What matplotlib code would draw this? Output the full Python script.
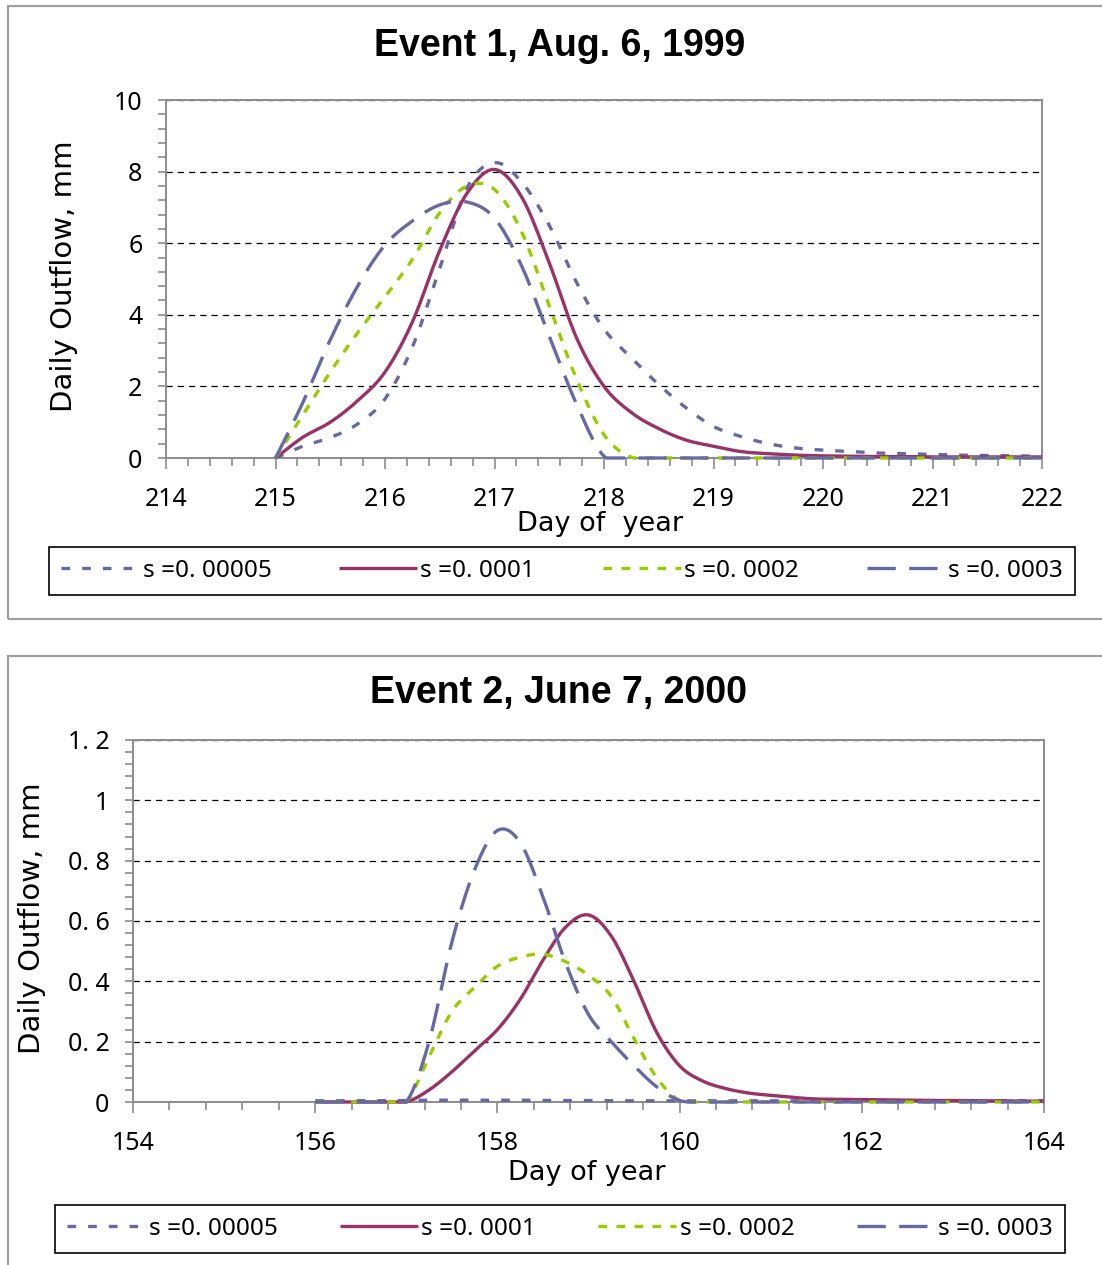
import matplotlib
matplotlib.use("Agg")
import matplotlib.pyplot as plt
import numpy as np
from matplotlib.patches import Rectangle
from matplotlib.ticker import FixedLocator, MultipleLocator

# ---- data ----
labels = ["s =0. 00005", "s =0. 0001", "s =0. 0002", "s =0. 0003"]

ev1_days = [215, 215.25, 215.5, 215.75, 216, 216.25, 216.5, 216.75, 217, 217.25,
            217.5, 217.75, 218, 218.25, 218.5, 218.75, 219, 219.25, 219.5, 219.75,
            220, 220.25, 220.5, 220.75, 221, 221.25, 221.5, 221.75, 222]
ev1_s00005 = [0, 0.33, 0.57, 0.95, 1.65, 3.1, 5.3, 7.55, 8.25, 7.7, 6.5, 4.9, 3.6,
              2.8, 2.05, 1.4, 0.88, 0.6, 0.4, 0.28, 0.22, 0.18, 0.14, 0.12, 0.1,
              0.08, 0.07, 0.06, 0.05]
ev1_s0001 = [0, 0.58, 1.0, 1.6, 2.4, 3.8, 5.8, 7.4, 8.06, 7.28, 5.45, 3.35, 2.0,
             1.27, 0.82, 0.5, 0.33, 0.18, 0.12, 0.08, 0.06, 0.05, 0.04, 0.04, 0.03,
             0.03, 0.03, 0.03, 0.03]
ev1_s0002 = [0, 1.2, 2.4, 3.5, 4.5, 5.55, 6.85, 7.6, 7.5, 6.3, 4.25, 2.2, 0.65,
             0.02, 0, 0, 0, 0, 0, 0, 0, 0, 0, 0, 0, 0, 0, 0, 0]
ev1_s0003 = [0, 1.55, 3.3, 4.8, 5.95, 6.62, 7.07, 7.15, 6.7, 5.35, 3.4, 1.5, 0.05,
             0, 0, 0, 0, 0, 0, 0, 0, 0, 0, 0, 0, 0, 0, 0, 0]

ev2_days = [156, 156.25, 156.5, 156.75, 157, 157.25, 157.5, 157.75, 158, 158.25,
            158.5, 158.75, 159, 159.25, 159.5, 159.75, 160, 160.25, 160.5, 160.75,
            161, 161.25, 161.5, 161.75, 162, 162.25, 162.5, 162.75, 163, 163.25,
            163.5, 163.75, 164]
ev2_s00005 = [0.004, 0.004, 0.004, 0.004, 0.005, 0.006, 0.006, 0.006, 0.006, 0.006,
              0.005, 0.005, 0.005, 0.004, 0.004, 0.004, 0.004, 0.004, 0.004, 0.004,
              0.004, 0.004, 0.004, 0.004, 0.004, 0.004, 0.004, 0.004, 0.004, 0.004,
              0.004, 0.004, 0.004]
ev2_s0001 = [0, 0, 0, 0, 0, 0.04, 0.1, 0.17, 0.24, 0.34, 0.47, 0.58, 0.62, 0.55,
             0.4, 0.23, 0.12, 0.07, 0.045, 0.03, 0.022, 0.015, 0.01, 0.009, 0.008,
             0.007, 0.006, 0.005, 0.005, 0.004, 0.004, 0.003, 0.003]
ev2_s0002 = [0, 0, 0, 0, 0, 0.15, 0.3, 0.38, 0.45, 0.48, 0.49, 0.465, 0.42, 0.35,
             0.21, 0.08, 0.005, 0, 0, 0, 0, 0, 0, 0, 0, 0, 0, 0, 0, 0, 0, 0, 0]
ev2_s0003 = [0, 0, 0, 0, 0, 0.2, 0.53, 0.77, 0.9, 0.86, 0.68, 0.46, 0.29, 0.2, 0.12,
             0.05, 0.005, 0, 0, 0, 0, 0, 0, 0, 0, 0, 0, 0, 0, 0, 0, 0, 0]

ev1_xticks = [214, 215, 216, 217, 218, 219, 220, 221, 222]
ev1_yticks = [0, 2, 4, 6, 8, 10]
ev1_ylabels = ["0", "2", "4", "6", "8", "10"]
ev2_xticks = [154, 156, 158, 160, 162, 164]
ev2_yticks = [0, 0.2, 0.4, 0.6, 0.8, 1.0, 1.2]
ev2_ylabels = ["0", "0. 2", "0. 4", "0. 6", "0. 8", "1", "1. 2"]

# ---- styling ----
W, H = 1102, 1265
BLUE = "#6868a4"
PLUM = "#993366"
GREEN = "#99cc00"
STYLES = [
    dict(color=BLUE, lw=2.4, ls=(0, (2.6, 3.6))),
    dict(color=PLUM, lw=2.4, ls="-"),
    dict(color=GREEN, lw=2.4, ls=(0, (2.6, 2.8))),
    dict(color=BLUE, lw=2.4, ls=(0, (8.5, 4.0))),
]
TICK_FONT = "Noto Sans"
GRAY = "#8c8c8c"

fig = plt.figure(figsize=(W / 100, H / 100), dpi=100)


def fx(px):
    return px / W


def fy(py):
    return 1 - py / H


def smooth(xs, ys, n=12):
    # Excel-style smoothed line: cubic Bezier through the points
    xs = np.asarray(xs, float)
    ys = np.asarray(ys, float)
    out_x, out_y = [xs[0]], [ys[0]]
    t = np.linspace(0, 1, n + 1)[1:]
    for i in range(len(xs) - 1):
        i0, i3 = max(i - 1, 0), min(i + 2, len(xs) - 1)
        p1 = np.array([xs[i], ys[i]])
        p2 = np.array([xs[i + 1], ys[i + 1]])
        c1 = p1 + (p2 - np.array([xs[i0], ys[i0]])) / 6
        c2 = p2 - (np.array([xs[i3], ys[i3]]) - p1) / 6
        pts = ((1 - t) ** 3)[:, None] * p1 + (3 * (1 - t) ** 2 * t)[:, None] * c1 \
            + (3 * (1 - t) * t ** 2)[:, None] * c2 + (t ** 3)[:, None] * p2
        out_x.extend(pts[:, 0])
        out_y.extend(pts[:, 1])
    return np.array(out_x), np.clip(np.array(out_y), 0, None)


def frame(top, bottom):
    fig.patches.append(Rectangle((fx(8), fy(bottom)), fx(1120) - fx(8), fy(top) - fy(bottom),
                                 transform=fig.transFigure, fill=False,
                                 edgecolor="#a0a0a0", lw=1.6))


def panel(box, days, series, xticks, xminor, yticks, ylabels, yminor,
          title, title_xy, xlabel, xlabel_pos, ylabel_x, legend_box):
    left, top, right, bottom = box
    ax = fig.add_axes([fx(left), fy(bottom), fx(right) - fx(left), fy(top) - fy(bottom)])
    handles = []
    for vals, st in zip(series, STYLES):
        sx, sy = smooth(days, vals)
        (h,) = ax.plot(sx, sy, clip_on=False, zorder=3, solid_capstyle="butt",
                       dash_capstyle="butt", **st)
        handles.append(h)
    ax.set_xlim(xticks[0], xticks[-1])
    ax.set_ylim(yticks[0], yticks[-1])
    ax.xaxis.set_major_locator(FixedLocator(xticks))
    ax.xaxis.set_minor_locator(MultipleLocator(xminor))
    ax.yaxis.set_major_locator(FixedLocator(yticks))
    ax.yaxis.set_minor_locator(MultipleLocator(yminor))
    ax.set_xticklabels([str(t) for t in xticks])
    ax.set_yticklabels(ylabels)
    ax.tick_params(which="both", direction="out", color=GRAY, width=1.2)
    ax.tick_params(axis="x", which="major", length=8, pad=13)
    ax.tick_params(axis="x", which="minor", length=6)
    ax.tick_params(axis="y", which="both", length=6, pad=11)
    for lab in ax.get_xticklabels() + ax.get_yticklabels():
        lab.set_fontfamily(TICK_FONT)
        lab.set_fontsize(18)
    for sp in ax.spines.values():
        sp.set_color(GRAY)
        sp.set_linewidth(1.4)
    ax.grid(axis="y", which="major", color="black", ls=(0, (5, 4)), lw=0.9)
    ax.set_axisbelow(True)

    fig.text(fx(title_xy[0]), fy(title_xy[1]), title, ha="center", va="center",
             family="Liberation Sans", weight="bold", fontsize=27)
    fig.text(fx(xlabel_pos[0]), fy(xlabel_pos[1]), xlabel, ha="center", va="center",
             family="DejaVu Sans", fontsize=19.5)
    fig.text(fx(ylabel_x), fy((top + bottom) / 2 - 3), "Daily Outflow, mm", rotation=90,
             ha="center", va="center", family="DejaVu Sans", fontsize=21)

    l0, t0, r0, b0 = legend_box
    leg = fig.legend(handles, labels, loc="center",
                     bbox_to_anchor=(fx(l0), fy(b0), fx(r0) - fx(l0), fy(t0) - fy(b0)),
                     bbox_transform=fig.transFigure, mode="expand", ncol=4,
                     borderaxespad=0, fancybox=False, edgecolor="black", framealpha=1,
                     handlelength=3.2, handletextpad=0.15, borderpad=0.5,
                     prop={"family": TICK_FONT, "size": 17.5})
    leg.get_frame().set_linewidth(1.2)
    return ax


frame(6, 619)
frame(656, 1290)

panel((166, 100, 1042, 458), ev1_days,
      [ev1_s00005, ev1_s0001, ev1_s0002, ev1_s0003],
      ev1_xticks, 0.2, ev1_yticks, ev1_ylabels, 0.4,
      "Event 1, Aug. 6, 1999", (560, 46), "Day of  year", (600, 524), 64,
      (49, 545, 1075, 597))

panel((133, 740, 1044, 1102), ev2_days,
      [ev2_s00005, ev2_s0001, ev2_s0002, ev2_s0003],
      ev2_xticks, 0.4, ev2_yticks, ev2_ylabels, 0.04,
      "Event 2, June 7, 2000", (558, 693), "Day of year", (587, 1173), 32,
      (55, 1205, 1065, 1253))

fig.savefig("out.png", dpi=100)
